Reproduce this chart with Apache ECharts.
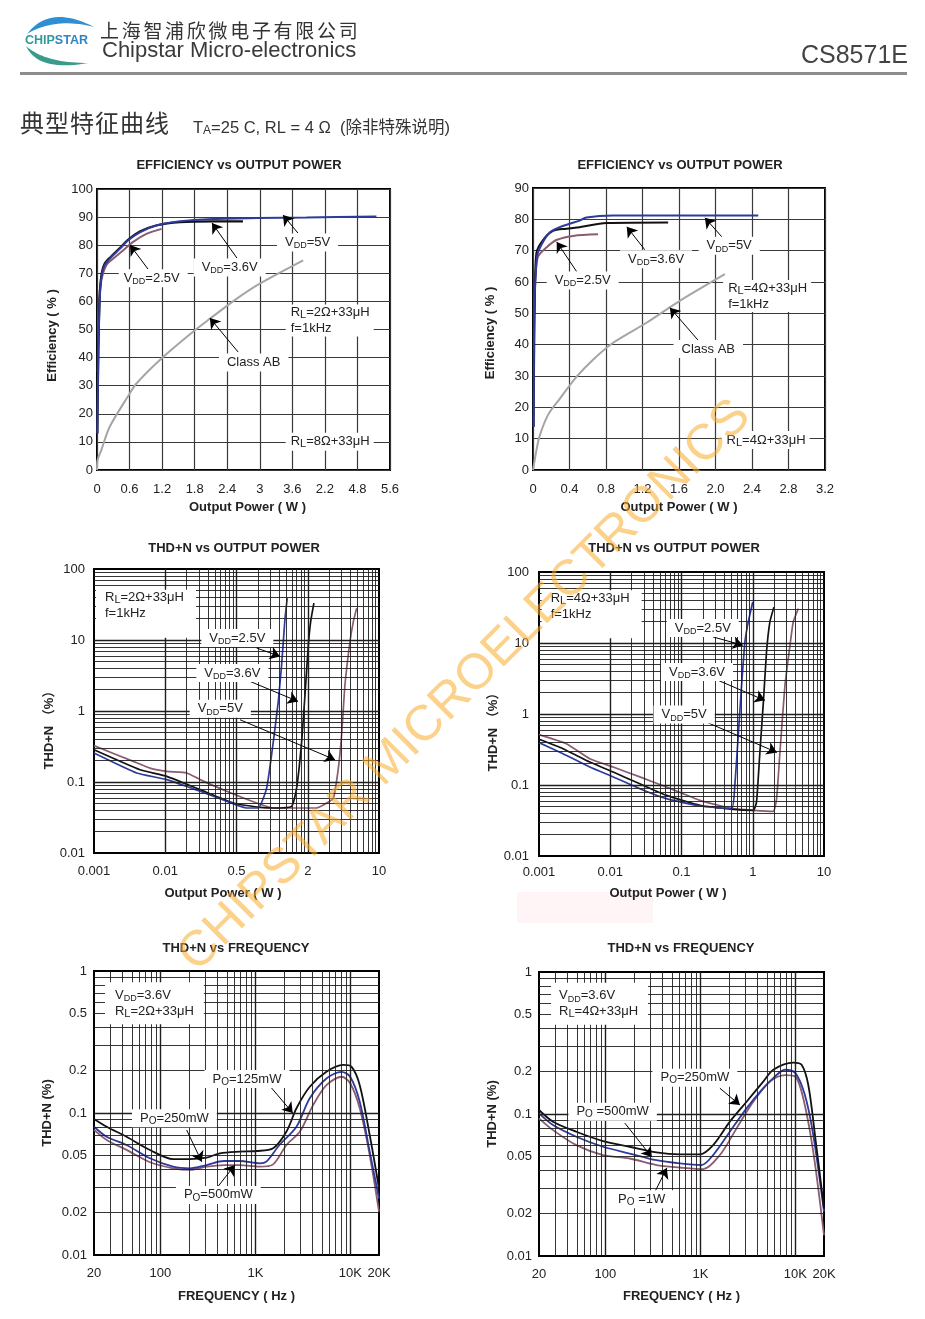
<!DOCTYPE html>
<html><head><meta charset="utf-8">
<script src="https://cdn.jsdelivr.net/npm/echarts@6.0.0/dist/echarts.min.js"></script>
<style>html,body{margin:0;padding:0;background:#fff}#c{width:925px;height:1319px}</style>
</head><body><div id="c"></div>
<script>
const FONT = "'Liberation Sans', Arial, 'Noto Sans CJK SC', sans-serif";
const CJK = "'Noto Sans CJK SC', 'Liberation Sans', sans-serif";

// ================= DATA =================
// Chart A : Efficiency vs Output Power, RL = 8Ω+33μH  (x in W, y in %)
const effA_xTickLabels = ['0','0.6','1.2','1.8','2.4','3','3.6','2.2','4.8','5.6'];
const effA_vdd5   = [[0.006,13],[0.025,42.6],[0.05,60.4],[0.08,68.6],[0.14,72.8],[0.26,75.7],[0.42,78.7],[0.57,81.7],[0.79,84.6],[1.09,87],[1.53,88.5],[2.14,89.3],[2.94,89.7],[3.86,89.9],[5.15,90.2]];
const effA_vdd36  = [[0.006,13],[0.025,42],[0.05,61.5],[0.08,69.2],[0.14,73.4],[0.26,76],[0.42,79],[0.57,81.9],[0.79,84.9],[1.09,87],[1.53,88.2],[2.14,88.5],[2.69,88.5]];
const effA_vdd25  = [[0.015,35],[0.037,60.4],[0.08,67.5],[0.17,72.8],[0.33,75.7],[0.48,78.1],[0.66,81.1],[0.91,84],[1.19,85.8]];
const effA_classAB= [[0,0],[0.01,3.5],[0.08,7.1],[0.234,15.4],[0.603,27.2],[0.726,30.8],[1.218,40.2],[1.802,49.7],[2.079,53.8],[2.571,60.9],[3.0,66.3],[3.8,74.6]];

// Chart B : Efficiency vs Output Power, RL = 4Ω+33μH
const effB_xTickLabels = ['0','0.4','0.8','1.2','1.6','2.0','2.4','2.8','3.2'];
const effB_vdd5   = [[0.007,13.7],[0.011,42.5],[0.018,55.3],[0.044,68.1],[0.091,71.8],[0.183,75.8],[0.293,77.5],[0.402,78.6],[0.512,79.6],[0.585,80.6],[0.878,81.2],[2.469,81.2]];
const effB_vdd36  = [[0.007,13.7],[0.018,51],[0.037,69.2],[0.11,73.4],[0.219,76.3],[0.366,77],[0.512,77.5],[0.805,78.8],[1.481,79.0]];
const effB_vdd25  = [[0.015,50],[0.029,61.7],[0.055,68.1],[0.146,71],[0.256,73.4],[0.439,74.7],[0.713,75.2]];
const effB_classAB= [[0,0],[0.037,6.2],[0.073,10.9],[0.165,17.6],[0.293,22.7],[0.476,29.7],[0.658,35.2],[0.878,40.6],[1.244,47],[1.609,54],[2.103,62.5]];

// Chart C : THD+N vs Output Power, RL = 2Ω+33μH  (x in W, y in %)
const thdC_xTickValues = [0.001,0.01,0.1,1,10];
const thdC_xTickLabels = ['0.001','0.01','0.5','2','10'];
const thdC_vdd25 = [[0.001,0.256],[0.00397,0.134],[0.0105,0.108],[0.0308,0.074],[0.0728,0.0535],[0.139,0.043],[0.202,0.043],[0.265,0.082],[0.329,0.374],[0.386,1.37],[0.43,4.5],[0.48,20.4],[0.516,39]];
const thdC_vdd36 = [[0.001,0.285],[0.00443,0.149],[0.0105,0.12],[0.0308,0.078],[0.0904,0.0506],[0.214,0.044],[0.329,0.043],[0.594,0.0454],[0.698,0.082],[0.822,0.374],[0.915,1.7],[1.02,8.6],[1.1,18.3],[1.22,33]];
const thdC_vdd5  = [[0.001,0.325],[0.00356,0.195],[0.0061,0.157],[0.0105,0.141],[0.02,0.134],[0.0308,0.108],[0.0728,0.074],[0.192,0.0506],[0.329,0.043],[0.63,0.043],[1.33,0.043],[1.85,0.0506],[2.29,0.0596],[2.69,0.157],[2.99,0.465],[3.33,2.35],[3.92,9.6],[4.37,18.3],[4.86,28]];

// Chart D : THD+N vs Output Power, RL = 4Ω+33μH
const thdD_xTickValues = [0.001,0.01,0.1,1,10];
const thdD_xTickLabels = ['0.001','0.01','0.1','1','10'];
const thdD_vdd25 = [[0.001,0.395],[0.00217,0.276],[0.00515,0.179],[0.011,0.13],[0.026,0.0888],[0.0615,0.0642],[0.181,0.0506],[0.505,0.0464],[0.56,0.099],[0.626,0.5],[0.697,2.53],[0.776,10.3],[0.865,19.8],[1.0,37.8]];
const thdD_vdd36 = [[0.001,0.44],[0.00217,0.325],[0.00515,0.211],[0.011,0.152],[0.026,0.104],[0.0615,0.0714],[0.181,0.0518],[0.532,0.0454],[1.02,0.044],[1.13,0.0577],[1.26,0.292],[1.41,1.48],[1.56,7.46],[1.74,19.8],[1.98,32]];
const thdD_vdd5  = [[0.001,0.512],[0.00242,0.382],[0.00515,0.235],[0.011,0.179],[0.026,0.13],[0.0615,0.0938],[0.181,0.0608],[0.532,0.0464],[1.02,0.044],[1.94,0.0426],[2.16,0.0642],[2.41,0.292],[2.83,2.53],[3.33,9.27],[3.7,19.8],[4.36,30.5]];
const thdY_tickValues = [0.01,0.1,1,10,100];
const thdY_tickLabels = ['0.01','0.1','1','10','100'];

// Chart E : THD+N vs Frequency, VDD=3.6V, RL = 2Ω+33μH (x in Hz, y in %)
const freqE_po125 = [[20,0.0908],[27.2,0.080],[44,0.068],[77.6,0.0549],[136,0.0474],[204,0.0474],[306,0.0485],[423,0.052],[686,0.0534],[1023,0.054],[1537,0.0564],[2124,0.074],[2706,0.108],[3735,0.153],[5592,0.195],[8375,0.218],[10250,0.212],[12540,0.157],[15970,0.070],[20000,0.0295]];
const freqE_po250 = [[20,0.080],[27.2,0.068],[44,0.0595],[77.6,0.048],[136,0.0419],[204,0.0408],[306,0.043],[468,0.0459],[686,0.0459],[1113,0.0442],[1302,0.0454],[1790,0.0595],[2706,0.080],[3735,0.127],[5592,0.175],[8070,0.195],[9940,0.18],[12540,0.12],[15970,0.0534],[20000,0.025]];
const freqE_po500 = [[20,0.076],[27.2,0.0646],[44,0.055],[77.6,0.045],[136,0.0408],[204,0.0397],[306,0.0419],[468,0.043],[686,0.043],[1113,0.0419],[1537,0.0435],[2124,0.0595],[2940,0.074],[4060,0.114],[5592,0.157],[8070,0.18],[9940,0.162],[12540,0.108],[15970,0.0506],[20000,0.0202]];

// Chart F : THD+N vs Frequency, VDD=3.6V, RL = 4Ω+33μH
const freqF_po250 = [[20,0.1067],[28.1,0.0883],[49.4,0.075],[94.4,0.0645],[180,0.0588],[344,0.0536],[607,0.0519],[986,0.0519],[1362,0.0604],[2042,0.0883],[3061,0.122],[4585,0.169],[5844,0.205],[9500,0.230],[11620,0.222],[13670,0.160],[16070,0.0711],[20000,0.0216]];
const freqF_po500 = [[20,0.101],[28.1,0.0836],[49.4,0.0692],[94.4,0.0588],[180,0.0527],[344,0.0473],[607,0.0449],[1025,0.0437],[1362,0.0514],[2042,0.075],[3061,0.1096],[4585,0.152],[5844,0.179],[7760,0.205],[10000,0.194],[12590,0.136],[15420,0.0711],[20000,0.0205]];
const freqF_po1000= [[20,0.0932],[28.1,0.077],[49.4,0.0604],[94.4,0.0514],[180,0.0486],[344,0.0437],[607,0.042],[1069,0.0409],[1603,0.0514],[2404,0.0792],[3600,0.122],[5400,0.169],[7760,0.188],[10000,0.183],[12100,0.129],[15420,0.0542],[20000,0.014]];

const freqX_tickValues = [20,100,1000,10000,20000];
const freqX_tickLabels = ['20','100','1K','10K','20K'];
const freqY_tickValues = [0.01,0.02,0.05,0.1,0.2,0.5,1];
const freqY_tickLabels = ['0.01','0.02','0.05','0.1','0.2','0.5','1'];

// ================= ANNOTATIONS (data coordinates) =================
const vdd = v => `{n|V}{s|DD}{n|=${v}}`;
const rl  = r => `{n|R}{l|L}{n|=${r}+33μH}`;
const po  = (p, sp) => `{n|P}{o|O}{n|${sp ? ' ' : ''}=${p}}`;
const P1 = [1,8,1,8];

const annA_labels = [[3.317,80.96,vdd('5V'),P1],[1.782,72.06,vdd('3.6V'),P1],[0.40,68.2,vdd('2.5V'),[1,8,1,5]],
  [3.478,53.2,rl('2Ω')+'\n{n|f=1kHz}',[0,4,0,5]],[2.248,38.3,'{n|Class AB}',P1],[3.478,10.07,rl('8Ω'),[1,4,1,5]]];
const annA_arrows = [[[3.704,84.3],[3.428,90.75]],[[2.58,75.4],[2.119,87.9]],[[0.94,71.5],[0.608,80.07]],[[2.6,42],[2.08,54.1]]];

const annB_labels = [[1.815,71.6,vdd('5V'),P1],[0.954,67.3,vdd('3.6V'),P1],[0.150,60.5,vdd('2.5V'),P1],
  [2.084,55.5,rl('4Ω')+'\n{n|f=1kHz}',[0,4,0,5]],[1.540,38.6,'{n|Class AB}',P1],[2.067,9.58,rl('4Ω'),[1,4,1,5]]];
const annB_arrows = [[[2.07,74.4],[1.884,80.5]],[[1.225,70.3],[1.028,77.6]],[[0.479,63.3],[0.26,72.8]],[[1.807,41.5],[1.5,51.8]]];

const annC_labels = [[0.001067,23.4,rl('2Ω')+'\n{n|f=1kHz}',[0,12,16,9]],[0.03206,10.67,vdd('2.5V'),P1],[0.0273,3.43,vdd('3.6V'),P1],[0.02203,1.077,vdd('5V'),P1]];
const annC_arrows = [[[0.192,7.71],[0.408,5.87]],[[0.155,2.61],[0.73,1.365]],[[0.112,0.753],[2.41,0.206]]];

const annD_labels = [[0.00109,25.4,rl('4Ω')+'\n{n|f=1kHz}',[0,12,16,9]],[0.0622,16.3,vdd('2.5V'),P1],[0.0516,3.91,vdd('3.6V'),P1],[0.0405,0.981,vdd('5V'),P1]];
const annD_arrows = [[[0.275,12.2],[0.726,9.3]],[[0.3236,2.99],[1.48,1.556]],[[0.2265,0.764],[2.18,0.288]]];

const annE_labels = [[26.1,0.592,vdd('3.6V')+'\n'+rl('2Ω'),[5,10,5,10]],[291.7,0.1735,po('125mW'),P1],[50.2,0.0917,po('250mW'),P1],[145.6,0.0265,po('500mW'),P1]];
const annE_arrows = [[[1479,0.15],[2472,0.1]],[[189,0.0759],[272,0.0454]],[[403,0.0303],[608,0.043]]];

const annF_labels = [[26.8,0.5976,vdd('3.6V')+'\n'+rl('4Ω'),[5,10,5,8]],[313,0.1803,po('250mW'),P1],[40.8,0.1038,po('500mW',true),P1],[112,0.0251,po('1W',true),P1]];
const annF_arrows = [[[1603,0.152],[2606,0.1156]],[[160,0.0863],[308,0.0497]],[[331,0.0282],[443,0.0416]]];

// ================= BUILD =================
const C_BLUE = '#2e3a9c', C_BLACK = '#111111', C_MAUVE = '#8b5b70', C_GRAY = '#a5a5a5';
const RICH = {
  n: {fontSize:13, lineHeight:16, color:'#222', fontFamily:FONT},
  s: {fontSize:9, lineHeight:9, verticalAlign:'bottom', color:'#222', fontFamily:FONT},
  o: {fontSize:10, lineHeight:10, verticalAlign:'bottom', color:'#222', fontFamily:FONT},
  l: {fontSize:11, lineHeight:11, verticalAlign:'bottom', color:'#222', fontFamily:FONT}
};

const gridBoxes = [
  {left:97, top:189, width:293, height:281},
  {left:533, top:188, width:292, height:282},
  {left:94, top:569, width:285, height:284},
  {left:539, top:572, width:285, height:284},
  {left:94, top:971, width:285, height:284},
  {left:539, top:972, width:285, height:284}
];
const grid = gridBoxes.map(g => Object.assign({show:true, borderColor:'#000', borderWidth:2, containLabel:false, outerBoundsMode:'none'}, g));

function nameStyle(pad){ return {fontWeight:'bold', fontSize:13, color:'#222', fontFamily:FONT, padding:pad||0}; }
function lookup(vals, labels){ return v => { for (let i=0;i<vals.length;i++){ if (Math.abs(Math.log10(vals[i]) - Math.log10(v)) < 1e-6) return labels[i]; } return ''; }; }
const labelBase = {color:'#222', fontSize:13, fontFamily:FONT};
const EFF_SPLIT = {show:true, lineStyle:{color:'#3a3a3a', width:1.2}};

function valX(i, max, step, labels, name, gap, pad){
  return {type:'value', gridIndex:i, min:0, max:max, interval:step, axisLine:{show:false}, axisTick:{show:false}, splitLine:EFF_SPLIT,
    axisLabel:Object.assign({margin:13, formatter:v => labels[Math.round(v/step)]}, labelBase),
    name:name, nameLocation:'middle', nameGap:gap, nameTextStyle:nameStyle(pad)};
}
function valY(i, max, step, name, gap, margin, pad){
  return {type:'value', gridIndex:i, min:0, max:max, interval:step, axisLine:{show:false}, axisTick:{show:false}, splitLine:EFF_SPLIT,
    axisLabel:Object.assign({margin:margin}, labelBase),
    name:name, nameLocation:'middle', nameGap:gap, nameTextStyle:nameStyle(pad)};
}
function logAxis(i, min, max, vals, labels, name, gap, margin, pad){
  return {type:'log', logBase:10, gridIndex:i, min:min, max:max, axisLine:{show:false}, axisTick:{show:false}, splitLine:{show:false}, minorTick:{show:false},
    axisLabel:Object.assign({margin:margin, customValues:vals, formatter:lookup(vals, labels)}, labelBase),
    name:name, nameLocation:'middle', nameGap:gap, nameTextStyle:nameStyle(pad)};
}

const xAxis = [
  valX(0, 5.4, 0.6, effA_xTickLabels, 'Output Power ( W )', 31, [0,0,0,8]),
  valX(1, 3.2, 0.4, effB_xTickLabels, 'Output Power ( W )', 31),
  logAxis(2, 0.001, 10, thdC_xTickValues, thdC_xTickLabels, 'Output Power ( W )', 34, 12, [0,27,0,0]),
  logAxis(3, 0.001, 10, thdD_xTickValues, thdD_xTickLabels, 'Output Power ( W )', 31, 10, [0,27,0,0]),
  logAxis(4, 20, 20000, freqX_tickValues, freqX_tickLabels, 'FREQUENCY ( Hz )', 35, 12),
  logAxis(5, 20, 20000, freqX_tickValues, freqX_tickLabels, 'FREQUENCY ( Hz )', 34, 12)
];
const yAxis = [
  valY(0, 100, 10, 'Efficiency ( % )', 38, 4, [0,12,0,0]),
  valY(1, 90, 10, 'Efficiency ( % )', 36, 4, [0,8,0,0]),
  logAxis(2, 0.01, 100, thdY_tickValues, thdY_tickLabels, 'THD+N （%）', 38, 9, [0,32,0,0]),
  logAxis(3, 0.01, 100, thdY_tickValues, thdY_tickLabels, 'THD+N （%）', 38, 10, [0,30,0,0]),
  logAxis(4, 0.01, 1, freqY_tickValues, freqY_tickLabels, 'THD+N (%)', 40, 7),
  logAxis(5, 0.01, 1, freqY_tickValues, freqY_tickLabels, 'THD+N (%)', 40, 7)
];

function logLines(min, max){
  const out = [];
  const d0 = Math.floor(Math.log10(min)), d1 = Math.ceil(Math.log10(max));
  for (let d = d0; d <= d1; d++) for (let m = 1; m <= 9; m++) {
    const v = +(m * Math.pow(10, d)).toPrecision(6);
    if (v > min * 1.0001 && v < max * 0.9999) out.push({v:v, major:m===1});
  }
  return out;
}
function gridSeries(i, xmin, xmax, ymin, ymax){
  const xs = logLines(xmin, xmax), ys = logLines(ymin, ymax);
  const items = xs.map(o => ({xAxis:o.v, lineStyle:{width:o.major?1.4:0.9}}))
    .concat(ys.map(o => ({yAxis:o.v, lineStyle:{width:o.major?1.4:0.9}})));
  return {type:'line', xAxisIndex:i, yAxisIndex:i, data:[], z:1, silent:true,
    markLine:{silent:true, animation:false, symbol:['none','none'], label:{show:false}, emphasis:{disabled:true},
      lineStyle:{color:'#1e1e1e', width:0.9, type:'solid'}, data:items}};
}
function curve(i, data, color, width, smooth){
  return {type:'line', xAxisIndex:i, yAxisIndex:i, data:data, color:color, showSymbol:false, symbol:'none', smooth:smooth,
    lineStyle:{color:color, width:width}, z:3, silent:true};
}
function annot(i, labels, arrows){
  return {type:'line', xAxisIndex:i, yAxisIndex:i, data:[], z:10, silent:true,
    markLine:{silent:true, animation:false, symbol:['none','arrow'], symbolSize:10, label:{show:false}, emphasis:{disabled:true},
      lineStyle:{color:'#000', width:1, type:'solid'}, data:arrows.map(a => [{coord:a[0]},{coord:a[1]}])},
    markPoint:{silent:true, animation:false, symbol:'circle', symbolSize:0, itemStyle:{color:'rgba(0,0,0,0)'},
      label:{show:true, position:'right', distance:0, backgroundColor:'#fff', color:'#222', fontFamily:FONT, fontSize:13, lineHeight:16, rich:RICH},
      data:labels.map(l => ({coord:[l[0], l[1]], value:0, label:{formatter:l[2], padding:l[3]}}))}};
}

const series = [
  curve(0, effA_classAB, C_GRAY, 2, 0.3),
  curve(0, effA_vdd25, C_MAUVE, 2, 0.3),
  curve(0, effA_vdd36, C_BLACK, 2.2, 0.3),
  curve(0, effA_vdd5, C_BLUE, 2, 0.3),
  annot(0, annA_labels, annA_arrows),

  curve(1, effB_classAB, C_GRAY, 2, 0.3),
  curve(1, effB_vdd25, C_MAUVE, 2, 0.3),
  curve(1, effB_vdd36, C_BLACK, 2, 0.3),
  curve(1, effB_vdd5, C_BLUE, 2, 0.3),
  annot(1, annB_labels, annB_arrows),

  gridSeries(2, 0.001, 10, 0.01, 100),
  curve(2, thdC_vdd5, C_MAUVE, 1.7, 0.15),
  curve(2, thdC_vdd36, C_BLACK, 1.7, 0.15),
  curve(2, thdC_vdd25, C_BLUE, 1.7, 0.15),
  annot(2, annC_labels, annC_arrows),

  gridSeries(3, 0.001, 10, 0.01, 100),
  curve(3, thdD_vdd5, C_MAUVE, 1.7, 0.15),
  curve(3, thdD_vdd36, C_BLACK, 1.7, 0.15),
  curve(3, thdD_vdd25, C_BLUE, 1.7, 0.15),
  annot(3, annD_labels, annD_arrows),

  gridSeries(4, 20, 20000, 0.01, 1),
  curve(4, freqE_po500, C_MAUVE, 1.8, 0.3),
  curve(4, freqE_po250, C_BLUE, 1.8, 0.3),
  curve(4, freqE_po125, C_BLACK, 1.8, 0.3),
  annot(4, annE_labels, annE_arrows),

  gridSeries(5, 20, 20000, 0.01, 1),
  curve(5, freqF_po1000, C_MAUVE, 1.8, 0.3),
  curve(5, freqF_po500, C_BLUE, 1.8, 0.3),
  curve(5, freqF_po250, C_BLACK, 1.8, 0.3),
  annot(5, annF_labels, annF_arrows)
];

// ---------- page decoration / text ----------
function quadCrescent(p0, c1, p2, c2){
  const pts = [];
  const q = (a,b,c,t) => (1-t)*(1-t)*a + 2*(1-t)*t*b + t*t*c;
  for (let k=0;k<=20;k++){ const t=k/20; pts.push([q(p0[0],c1[0],p2[0],t), q(p0[1],c1[1],p2[1],t)]); }
  for (let k=20;k>=0;k--){ const t=k/20; pts.push([q(p0[0],c2[0],p2[0],t), q(p0[1],c2[1],p2[1],t)]); }
  return pts;
}
const chartTitles = [
  ['EFFICIENCY vs OUTPUT POWER', 239, 165],
  ['EFFICIENCY vs OUTPUT POWER', 680, 165],
  ['THD+N vs OUTPUT POWER', 234, 548],
  ['THD+N vs OUTPUT POWER', 674, 548],
  ['THD+N vs FREQUENCY', 236, 948],
  ['THD+N vs FREQUENCY', 681, 948]
];
function txt(x, y, text, o){
  return {type:'text', x:x, y:y, silent:true,
    style:Object.assign({text:text, fill:'#222', fontFamily:FONT, fontSize:13, align:'left', verticalAlign:'middle'}, o||{})};
}
// spaced CJK text: one glyph per element, fixed advance
function spaced(str, x0, y, step, o){
  return Array.from(str).map((ch, k) => txt(x0 + k*step, y, ch, o));
}
const companyCN = '上海智浦欣微电子有限公司';
const sectionCN = '典型特征曲线';
const graphics = [
  {type:'polygon', silent:true, shape:{points:quadCrescent([27,34],[50,4],[94,27],[55,17])}, style:{fill:'#2f8fd0'}},
  {type:'polygon', silent:true, shape:{points:quadCrescent([26,46],[38,72],[88,63],[45,63])}, style:{fill:'#3a9a8c'}},
  txt(25, 40.5, '{a|CHIP}{b|STAR}', {rich:{a:{fill:'#2f9a9a', fontSize:12.5, fontWeight:'bold', fontFamily:FONT}, b:{fill:'#2d86c4', fontSize:12.5, fontWeight:'bold', fontFamily:FONT}}}),
  txt(102, 50.5, 'Chipstar Micro-electronics', {fontSize:22, fill:'#3a3a3a'}),
  txt(908, 56, 'CS8571E', {fontSize:25, fill:'#444', align:'right'}),
  {type:'rect', silent:true, shape:{x:20, y:72, width:887, height:3}, style:{fill:'#8d8d8d'}},
  txt(193, 128, '{t|T}{a|A}{t|=25 C, RL = 4 Ω  (除非特殊说明)}', {rich:{t:{fontSize:16.5, fill:'#333', fontFamily:FONT, lineHeight:18}, a:{fontSize:12, fill:'#333', fontFamily:FONT, lineHeight:12, verticalAlign:'bottom'}}}),
  {type:'rect', silent:true, z:-1, shape:{x:517, y:892, width:136, height:31}, style:{fill:'#fff4f6'}}
]
.concat(spaced(companyCN, 100, 31, 21.7, {fontFamily:CJK, fontSize:19, fill:'#333'}))
.concat(spaced(sectionCN, 20, 123, 25, {fontFamily:CJK, fontSize:24, fill:'#333'}))
.concat(chartTitles.map(t => txt(t[1], t[2], t[0], {fontWeight:'bold', fontSize:13, align:'center'})));

graphics.push({type:'text', silent:true, z:100, x:465, y:686, rotation:Math.PI/4,
  style:{text:'CHIPSTAR MICROELECTRONICS', fill:'rgba(249,172,40,0.55)', fontFamily:FONT, fontSize:50, align:'center', verticalAlign:'middle'}});

const chart = echarts.init(document.getElementById('c'), null, {renderer:'canvas', width:925, height:1319});
chart.setOption({
  animation:false,
  backgroundColor:'#ffffff',
  textStyle:{fontFamily:FONT},
  grid:grid, xAxis:xAxis, yAxis:yAxis, series:series,
  graphic:{elements:graphics}
});
</script></body></html>
